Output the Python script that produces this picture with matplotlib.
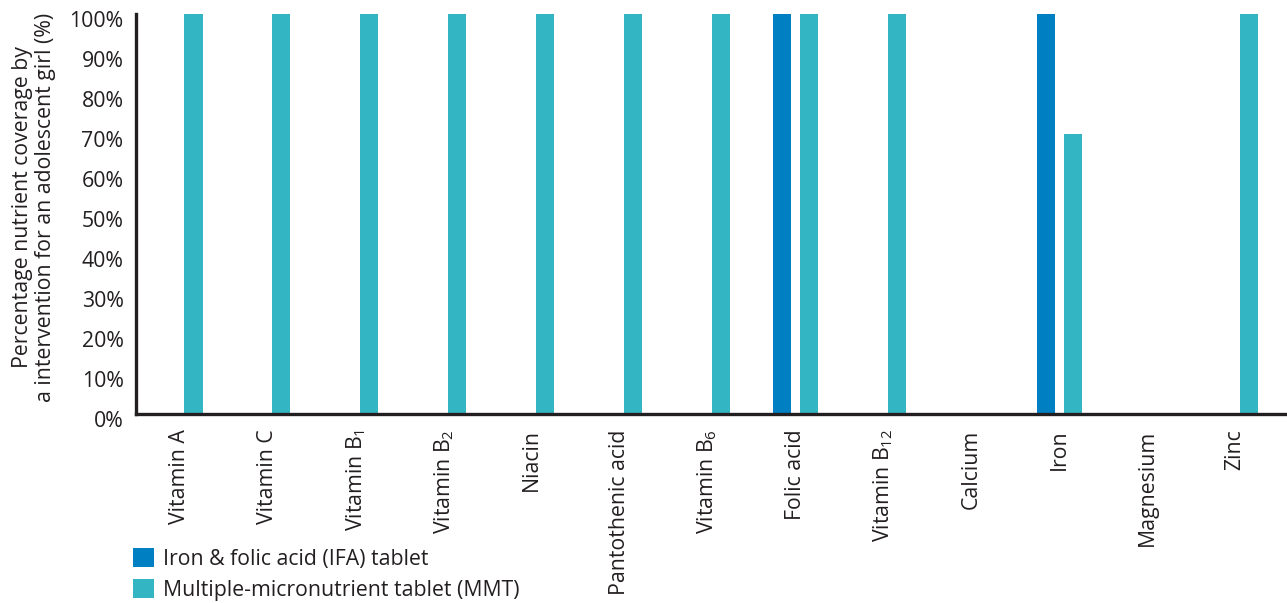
import matplotlib.pyplot as plt
import matplotlib.transforms as mtransforms
import numpy as np

plt.rcParams['font.family'] = ['Open Sans', 'DejaVu Sans']
plt.rcParams['mathtext.fontset'] = 'custom'
plt.rcParams['mathtext.rm'] = 'Open Sans'
plt.rcParams['mathtext.it'] = 'Open Sans'

nutrients = ["Vitamin A", "Vitamin C", "Vitamin B$_1$", "Vitamin B$_2$", "Niacin",
             "Pantothenic acid", "Vitamin B$_6$", "Folic acid", "Vitamin B$_{12}$",
             "Calcium", "Iron", "Magnesium", "Zinc"]
ifa = [0, 0, 0, 0, 0, 0, 0, 100, 0, 0, 100, 0, 0]
mmt = [100, 100, 100, 100, 100, 100, 100, 100, 100, 0, 70, 0, 100]

ifa_color = "#0080C3"
mmt_color = "#34B5C4"
text_color = "#231F20"
fs = 15.3

fig = plt.figure(figsize=(12.87, 6.03), dpi=100)
ax = fig.add_axes([136 / 1287, 189 / 603, 1151 / 1287, 400 / 603])

x = np.arange(len(nutrients))
w = 0.205
off = 0.154
ax.bar(x - off, ifa, w, color=ifa_color, label="Iron & folic acid (IFA) tablet")
ax.bar(x + off, mmt, w, color=mmt_color, label="Multiple-micronutrient tablet (MMT)")

ax.set_xlim(-0.5, 12.59)
ax.set_ylim(0, 100)
ax.set_yticks(range(0, 101, 10))
ax.set_yticklabels([f"{v}%" for v in range(0, 101, 10)])
ax.set_xticks(x)
ax.set_xticklabels(nutrients, rotation=90)
ax.tick_params(axis='y', length=0, pad=9, labelsize=fs, labelcolor=text_color)
ax.tick_params(axis='x', length=0, pad=11, labelsize=fs, labelcolor=text_color)

# tick labels sit a few px lower than the gridline positions in the original
shift = mtransforms.ScaledTranslation(0, -5 / 100, fig.dpi_scale_trans)
for lbl in ax.get_yticklabels():
    lbl.set_transform(lbl.get_transform() + shift)

for s in ['top', 'right']:
    ax.spines[s].set_visible(False)
for s in ['left', 'bottom']:
    ax.spines[s].set_linewidth(2.4)
    ax.spines[s].set_color(text_color)

fig.text(34 / 1287, 1 - 207 / 603,
         "Percentage nutrient coverage by\na intervention for an adolescent girl (%)",
         rotation=90, ha='center', va='center', fontsize=fs, color=text_color,
         multialignment='center', linespacing=1.1)

fig.legend(loc='upper left', bbox_to_anchor=(133 / 1287, 1 - 548 / 603),
           frameon=False, fontsize=fs, handlelength=1.0, handleheight=1.0,
           handletextpad=0.4, labelspacing=0.45, borderpad=0, borderaxespad=0,
           labelcolor=text_color)

fig.savefig("out.png", dpi=100)
